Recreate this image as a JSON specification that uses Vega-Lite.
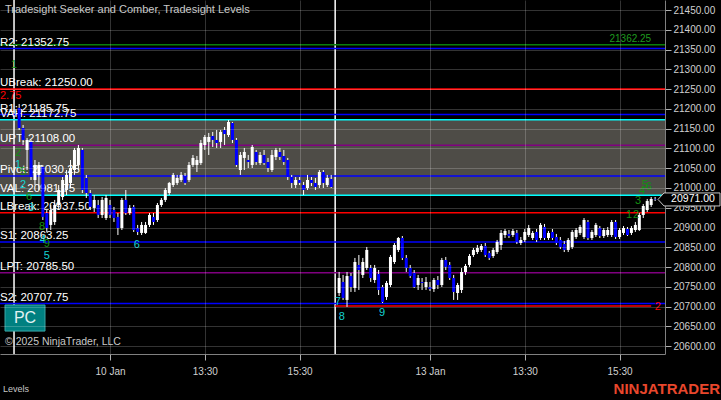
{
"$schema": "https://vega.github.io/schema/vega-lite/v6.json",
"width": 665, "height": 354,
"autosize": {"type": "none"},
"padding": {"left": 0, "top": 0, "right": 56, "bottom": 46},
"background": "#000000",
"config": {"view": {"stroke": null}, "font": "Liberation Sans", "text": {"font": "Liberation Sans"},
"scale": {"continuousPadding": 0},
"axis": {"labelOverlap": false, "labelFlush": false, "labelSeparation": 0}},
"datasets": {
"sessions": [{"b": -0.3}, {"b": 81}],
"levels": [
{"text": "R2: 21352.75", "value": 21352.75, "type": "S/R"},
{"text": "UBreak: 21250.00", "value": 21250.00, "type": "Break"},
{"text": "R1: 21185.75", "value": 21185.75, "type": "S/R"},
{"text": "VAH: 21172.75", "value": 21172.75, "type": "Value Area"},
{"text": "UPT: 21108.00", "value": 21108.00, "type": "Profit Target"},
{"text": "Pivot: 21030.25", "value": 21030.25, "type": "S/R"},
{"text": "VAL: 20981.75", "value": 20981.75, "type": "Value Area"},
{"text": "LBreak: 20937.50", "value": 20937.50, "type": "Break"},
{"text": "S1: 20863.25", "value": 20863.25, "type": "S/R"},
{"text": "LPT: 20785.50", "value": 20785.50, "type": "Profit Target"},
{"text": "S2: 20707.75", "value": 20707.75, "type": "S/R"},
{"text": "", "value": 21362.25, "type": "Target up"}
],
"signals": [
{"i": -0.3, "p": 21311, "t": "1", "k": "Seeker"},
{"i": 0.7, "p": 21088.5, "t": "2", "k": "Seeker"},
{"i": 0.7, "p": 21058, "t": "1", "k": "Comber"},
{"i": 2, "p": 21040.5, "t": "5", "k": "Seeker"},
{"i": 2, "p": 21007.5, "t": "2", "k": "Comber"},
{"i": 3.5, "p": 20977, "t": "6", "k": "Seeker"},
{"i": 4, "p": 20949.5, "t": "3", "k": "Comber"},
{"i": 6.8, "p": 20901.5, "t": "8", "k": "Seeker"},
{"i": 7, "p": 20868.5, "t": "4", "k": "Comber"},
{"i": 8, "p": 20858.5, "t": "9", "k": "Seeker"},
{"i": 8, "p": 20828, "t": "5", "k": "Comber"},
{"i": 30.8, "p": 20855.8, "t": "6", "k": "Comber"},
{"i": 81.7, "p": 20711.6, "t": "7", "k": "Comber"},
{"i": 82.7, "p": 20673.6, "t": "8", "k": "Comber"},
{"i": 92.9, "p": 20683.8, "t": "9", "k": "Comber"},
{"i": 155.4, "p": 20931.7, "t": "1", "k": "Seeker"},
{"i": 157.2, "p": 20931.7, "t": "2", "k": "Seeker"},
{"i": 157.7, "p": 20967, "t": "3", "k": "Seeker"},
{"i": 158.7, "p": 20992.4, "t": "4", "k": "Seeker"},
{"i": 159.4, "p": 21007.6, "t": "5", "k": "Seeker"},
{"i": 160.4, "p": 21002.5, "t": "6", "k": "Seeker"},
{"i": 162.7, "p": 20699, "t": "2", "k": "Target down"}
],
"bars": [
{"i":1,"o":21202.5,"h":21212.5,"l":21146.75,"c":21151.75},
{"i":2,"o":21151.75,"h":21159.5,"l":21108.75,"c":21121.5},
{"i":3,"o":21096.25,"h":21126.5,"l":21045.5,"c":21121.5},
{"i":4,"o":21116.5,"h":21121.5,"l":21020.25,"c":21027.75},
{"i":5,"o":21020.25,"h":21070.75,"l":21007.5,"c":21058.25},
{"i":6,"o":21033,"h":21065.75,"l":20995,"c":21058.25},
{"i":7,"o":21053.25,"h":21058.25,"l":20919,"c":20926.75},
{"i":8,"o":20936.75,"h":20944.25,"l":20888.75,"c":20898.75},
{"i":9,"o":20906.5,"h":20957,"l":20893.75,"c":20944.25},
{"i":10,"o":20914,"h":20969.75,"l":20906.5,"c":20957},
{"i":11,"o":20957,"h":21007.5,"l":20944.25,"c":20995},
{"i":12,"o":20977.25,"h":21027.75,"l":20969.75,"c":21020.25},
{"i":13,"o":20995,"h":21045.5,"l":20982.25,"c":21033},
{"i":14,"o":21012.75,"h":21070.75,"l":21000,"c":21050.5},
{"i":15,"o":21045.5,"h":21101.25,"l":21033,"c":21096.25},
{"i":16,"o":21058.25,"h":21108.75,"l":21045.5,"c":21101.25},
{"i":17,"o":21096.25,"h":21101.25,"l":20987.25,"c":20995},
{"i":18,"o":21025.25,"h":21033,"l":20974.75,"c":20987.25},
{"i":19,"o":20987.25,"h":20995,"l":20944.25,"c":20952},
{"i":20,"o":20949.5,"h":20982.25,"l":20939.25,"c":20969.75},
{"i":21,"o":20957,"h":20969.75,"l":20924,"c":20931.75},
{"i":22,"o":20931.75,"h":20977.25,"l":20924,"c":20969.75},
{"i":23,"o":20924,"h":20982.25,"l":20919,"c":20974.75},
{"i":24,"o":20957,"h":20969.75,"l":20924,"c":20931.75},
{"i":25,"o":20944.25,"h":20952,"l":20914,"c":20924},
{"i":26,"o":20926.75,"h":20936.75,"l":20881,"c":20898.75},
{"i":27,"o":20898.75,"h":20974.75,"l":20893.75,"c":20969.75},
{"i":28,"o":20969.75,"h":20995,"l":20931.75,"c":20936.75},
{"i":29,"o":20936.75,"h":20957,"l":20931.75,"c":20949.5},
{"i":30,"o":20952,"h":20957,"l":20888.75,"c":20893.75},
{"i":31,"o":20898.75,"h":20906.5,"l":20881,"c":20888.75},
{"i":32,"o":20886.25,"h":20914,"l":20881,"c":20906.5},
{"i":33,"o":20886.25,"h":20914,"l":20883.75,"c":20906.5},
{"i":34,"o":20906.5,"h":20936.75,"l":20901.25,"c":20931.75},
{"i":35,"o":20926.75,"h":20936.75,"l":20906.5,"c":20914},
{"i":36,"o":20919,"h":20962,"l":20914,"c":20957},
{"i":37,"o":20957,"h":20974.75,"l":20952,"c":20969.75},
{"i":38,"o":20969.75,"h":21000,"l":20964.5,"c":20995},
{"i":39,"o":20987.25,"h":21015.25,"l":20982.25,"c":21012.75},
{"i":40,"o":21007.5,"h":21038,"l":21002.5,"c":21033},
{"i":41,"o":21012.75,"h":21033,"l":21007.5,"c":21025.25},
{"i":42,"o":21020.25,"h":21040.5,"l":21015.25,"c":21033},
{"i":43,"o":21030.25,"h":21038,"l":21007.5,"c":21012.75},
{"i":44,"o":21020.25,"h":21065.75,"l":21015.25,"c":21058.25},
{"i":45,"o":21058.25,"h":21083.5,"l":21053.25,"c":21076},
{"i":46,"o":21058.25,"h":21081,"l":21040.5,"c":21070.75},
{"i":47,"o":21063.25,"h":21121.5,"l":21058.25,"c":21113.75},
{"i":48,"o":21108.75,"h":21134,"l":21096.25,"c":21129},
{"i":49,"o":21116.5,"h":21139.25,"l":21083.5,"c":21129},
{"i":50,"o":21131.5,"h":21141.75,"l":21103.75,"c":21121.5},
{"i":51,"o":21121.5,"h":21146.75,"l":21101.25,"c":21113.75},
{"i":52,"o":21116.5,"h":21146.75,"l":21101.25,"c":21141.75},
{"i":53,"o":21146.75,"h":21154.25,"l":21108.75,"c":21136.5},
{"i":54,"o":21134,"h":21172,"l":21129,"c":21167},
{"i":55,"o":21164.5,"h":21167,"l":21113.75,"c":21121.5},
{"i":56,"o":21121.5,"h":21126.5,"l":21053.25,"c":21058.25},
{"i":57,"o":21045.5,"h":21091,"l":21033,"c":21083.5},
{"i":58,"o":21076,"h":21101.25,"l":21045.5,"c":21091},
{"i":59,"o":21070.75,"h":21083.5,"l":21050.5,"c":21065.75},
{"i":60,"o":21058.25,"h":21108.75,"l":21050.5,"c":21103.75},
{"i":61,"o":21091,"h":21096.25,"l":21058.25,"c":21065.75},
{"i":62,"o":21063.25,"h":21091,"l":21058.25,"c":21083.5},
{"i":63,"o":21083.5,"h":21096.25,"l":21058.25,"c":21063.25},
{"i":64,"o":21065.75,"h":21076,"l":21040.5,"c":21050.5},
{"i":65,"o":21045.5,"h":21096.25,"l":21040.5,"c":21083.5},
{"i":66,"o":21078.5,"h":21101.25,"l":21070.75,"c":21096.25},
{"i":67,"o":21091,"h":21101.25,"l":21070.75,"c":21078.5},
{"i":68,"o":21081,"h":21096.25,"l":21058.25,"c":21065.75},
{"i":69,"o":21070.75,"h":21076,"l":21020.25,"c":21027.75},
{"i":70,"o":21027.75,"h":21033,"l":21000,"c":21012.75},
{"i":71,"o":21007.5,"h":21027.75,"l":21000,"c":21020.25},
{"i":72,"o":21020.25,"h":21027.75,"l":21007.5,"c":21012.75},
{"i":73,"o":21007.5,"h":21015.25,"l":20982.25,"c":20995},
{"i":74,"o":21000,"h":21033,"l":20995,"c":21020.25},
{"i":75,"o":21020.25,"h":21027.75,"l":21005,"c":21012.75},
{"i":76,"o":21012.75,"h":21025.25,"l":20995,"c":21002.5},
{"i":77,"o":21007.5,"h":21045.5,"l":21000,"c":21040.5},
{"i":78,"o":21040.5,"h":21045.5,"l":21000,"c":21012.75},
{"i":79,"o":21007.5,"h":21033,"l":21002.5,"c":21025.25},
{"i":80,"o":21022.75,"h":21033,"l":21000,"c":21002.5},
{"i":82,"o":20734.25,"h":20787.5,"l":20726.75,"c":20772.25},
{"i":83,"o":20762.25,"h":20780,"l":20716.75,"c":20721.75},
{"i":84,"o":20716.75,"h":20787.5,"l":20699,"c":20777.25},
{"i":85,"o":20777.25,"h":20785,"l":20737,"c":20749.5},
{"i":86,"o":20747,"h":20823,"l":20737,"c":20812.75},
{"i":87,"o":20805.25,"h":20830.5,"l":20742,"c":20792.5},
{"i":88,"o":20780,"h":20823,"l":20772.25,"c":20812.75},
{"i":89,"o":20797.5,"h":20850.75,"l":20792.5,"c":20843.25},
{"i":90,"o":20797.5,"h":20805.25,"l":20762.25,"c":20772.25},
{"i":91,"o":20767.25,"h":20805.25,"l":20759.75,"c":20797.5},
{"i":92,"o":20782.5,"h":20792.5,"l":20729.25,"c":20742},
{"i":93,"o":20749.5,"h":20754.5,"l":20709,"c":20711.5},
{"i":94,"o":20724.25,"h":20764.75,"l":20716.75,"c":20759.75},
{"i":95,"o":20754.5,"h":20830.5,"l":20749.5,"c":20825.5},
{"i":96,"o":20812.75,"h":20860.75,"l":20807.75,"c":20855.75},
{"i":97,"o":20843.25,"h":20876,"l":20838,"c":20873.5},
{"i":98,"o":20873.5,"h":20878.5,"l":20817.75,"c":20823},
{"i":99,"o":20823,"h":20830.5,"l":20787.5,"c":20797.5},
{"i":100,"o":20797.5,"h":20805.25,"l":20772.25,"c":20777.25},
{"i":101,"o":20785,"h":20792.5,"l":20747,"c":20749.5},
{"i":102,"o":20754.5,"h":20780,"l":20742,"c":20772.25},
{"i":103,"o":20762.25,"h":20772.25,"l":20742,"c":20759.75},
{"i":104,"o":20749.5,"h":20774.75,"l":20742,"c":20762.25},
{"i":105,"o":20749.5,"h":20762.25,"l":20739.5,"c":20744.5},
{"i":106,"o":20744.5,"h":20772.25,"l":20737,"c":20767.25},
{"i":107,"o":20767.25,"h":20777.25,"l":20744.5,"c":20754.5},
{"i":108,"o":20754.5,"h":20823,"l":20749.5,"c":20817.75},
{"i":109,"o":20817.75,"h":20825.5,"l":20792.5,"c":20800.25},
{"i":110,"o":20805.25,"h":20812.75,"l":20767.25,"c":20772.25},
{"i":111,"o":20772.25,"h":20780,"l":20716.75,"c":20737},
{"i":112,"o":20734.25,"h":20759.75,"l":20716.75,"c":20754.5},
{"i":113,"o":20742,"h":20797.5,"l":20734.25,"c":20787.5},
{"i":114,"o":20787.5,"h":20807.75,"l":20780,"c":20802.75},
{"i":115,"o":20805.25,"h":20833,"l":20800.25,"c":20828},
{"i":116,"o":20830.5,"h":20848.25,"l":20825.5,"c":20843.25},
{"i":117,"o":20838,"h":20855.75,"l":20833,"c":20848.25},
{"i":118,"o":20843.25,"h":20858.25,"l":20838,"c":20853.25},
{"i":119,"o":20853.25,"h":20860.75,"l":20825.5,"c":20830.5},
{"i":120,"o":20835.5,"h":20840.5,"l":20817.75,"c":20823},
{"i":121,"o":20828,"h":20848.25,"l":20823,"c":20843.25},
{"i":122,"o":20838,"h":20868.5,"l":20833,"c":20863.5},
{"i":123,"o":20855.75,"h":20893.75,"l":20843.25,"c":20886.25},
{"i":124,"o":20881,"h":20896.25,"l":20873.5,"c":20891.25},
{"i":125,"o":20883.75,"h":20893.75,"l":20873.5,"c":20878.5},
{"i":126,"o":20881,"h":20896.25,"l":20876,"c":20891.25},
{"i":127,"o":20886.25,"h":20893.75,"l":20858.25,"c":20863.5},
{"i":128,"o":20860.75,"h":20876,"l":20855.75,"c":20868.5},
{"i":129,"o":20868.5,"h":20896.25,"l":20863.5,"c":20888.75},
{"i":130,"o":20881,"h":20906.5,"l":20876,"c":20898.75},
{"i":131,"o":20873.5,"h":20891.25,"l":20868.5,"c":20886.25},
{"i":132,"o":20888.75,"h":20896.25,"l":20863.5,"c":20868.5},
{"i":133,"o":20873.5,"h":20911.5,"l":20868.5,"c":20906.5},
{"i":134,"o":20901.25,"h":20909,"l":20868.5,"c":20873.5},
{"i":135,"o":20873.5,"h":20891.25,"l":20868.5,"c":20886.25},
{"i":136,"o":20888.75,"h":20896.25,"l":20868.5,"c":20873.5},
{"i":137,"o":20876,"h":20883.75,"l":20855.75,"c":20860.75},
{"i":138,"o":20868.5,"h":20876,"l":20845.75,"c":20850.75},
{"i":139,"o":20858.25,"h":20866,"l":20838,"c":20843.25},
{"i":140,"o":20843.25,"h":20873.5,"l":20838,"c":20868.5},
{"i":141,"o":20850.75,"h":20893.75,"l":20845.75,"c":20888.75},
{"i":142,"o":20876,"h":20898.75,"l":20871,"c":20893.75},
{"i":143,"o":20886.25,"h":20906.5,"l":20881,"c":20901.25},
{"i":144,"o":20876,"h":20924,"l":20871,"c":20919},
{"i":145,"o":20914,"h":20919,"l":20868.5,"c":20873.5},
{"i":146,"o":20873.5,"h":20893.75,"l":20868.5,"c":20888.75},
{"i":147,"o":20881,"h":20911.5,"l":20876,"c":20906.5},
{"i":148,"o":20898.75,"h":20903.75,"l":20873.5,"c":20878.5},
{"i":149,"o":20878.5,"h":20898.75,"l":20873.5,"c":20893.75},
{"i":150,"o":20881,"h":20901.25,"l":20876,"c":20893.75},
{"i":151,"o":20881,"h":20919,"l":20876,"c":20914},
{"i":152,"o":20914,"h":20919,"l":20871,"c":20876},
{"i":153,"o":20876,"h":20898.75,"l":20871,"c":20893.75},
{"i":154,"o":20886.25,"h":20903.75,"l":20881,"c":20898.75},
{"i":155,"o":20896.25,"h":20901.25,"l":20878.5,"c":20881},
{"i":156,"o":20886.25,"h":20903.75,"l":20881,"c":20898.75},
{"i":157,"o":20893.75,"h":20914,"l":20888.75,"c":20906.5},
{"i":158,"o":20893.75,"h":20936.75,"l":20891.25,"c":20931.75},
{"i":159,"o":20931.75,"h":20959.5,"l":20924,"c":20954.5},
{"i":160,"o":20944.25,"h":20972.25,"l":20939.25,"c":20967},
{"i":161,"o":20957,"h":20977.25,"l":20952,"c":20972.25},
{"i":162,"o":20972.25,"h":20977.25,"l":20967,"c":20971}
]
},
"resolve": {"axis": {"x": "independent", "y": "independent"}},
"layer": [
{
"data": {"values": [{}]},
"mark": {"type": "rect", "color": "#4e4c47"},
"encoding": {
"x": {"datum": -3.85, "type": "quantitative", "title": null,
"scale": {"domain": [-3.85, 164.5], "nice": false, "zero": false, "padding": 0},
"axis": {"orient": "bottom", "title": null, "grid": true, "gridColor": "#ffffff", "gridOpacity": 0.2, "labels": false, "ticks": false, "domain": false, "values": [24, 48, 72, 105, 129, 153], "tickCount": 30, "zindex": 1}},
"x2": {"datum": 164.5},
"y": {"datum": 20981.75, "type": "quantitative", "title": null,
"scale": {"domain": [20580, 21475.6], "nice": false, "zero": false, "padding": 0},
"axis": {"orient": "right", "title": null, "grid": true, "gridColor": "#ffffff", "gridOpacity": 0.2, "labels": false, "ticks": false, "domain": false, "values": [20600, 20650, 20700, 20750, 20800, 20850, 20900, 20950, 21000, 21050, 21100, 21150, 21200, 21250, 21300, 21350, 21400, 21450], "tickCount": 30, "zindex": 1}},
"y2": {"datum": 21172.75}
}
},
{
"layer": [
{
"data": {"name": "sessions"},
"mark": {"type": "rule", "color": "#ffffff", "strokeWidth": 1.5},
"encoding": {
"x": {"field": "b", "type": "quantitative", "title": null,
"scale": {"domain": [-3.85, 164.5], "nice": false, "zero": false, "padding": 0},
"axis": {"orient": "bottom", "title": null, "grid": false, "values": [24, 48, 72, 105, 129, 153], "tickCount": 30,
"labelExpr": "datum.value == 24 ? '10 Jan' : datum.value == 48 ? '13:30' : datum.value == 72 ? '15:30' : datum.value == 105 ? '13 Jan' : datum.value == 129 ? '13:30' : '15:30'",
"domain": true, "domainColor": "#808080", "ticks": true, "tickColor": "#b0b0b0", "tickSize": 6,
"labelColor": "#d0d0d0", "labelFontSize": 10, "labelFont": "Liberation Sans", "labelPadding": 6, "labelOverlap": false, "labelFlush": false, "zindex": 0}}
}
},
{
"data": {"name": "levels"},
"mark": {"type": "rule", "strokeWidth": 1.6},
"encoding": {
"y": {"field": "value", "type": "quantitative", "title": null,
"scale": {"domain": [20580, 21475.6], "nice": false, "zero": false, "padding": 0},
"axis": {"orient": "right", "title": null, "grid": false, "values": [20600, 20650, 20700, 20750, 20800, 20850, 20900, 20950, 21000, 21050, 21100, 21150, 21200, 21250, 21300, 21350, 21400, 21450], "tickCount": 30,
"format": ".2f", "domain": true, "domainColor": "#808080", "ticks": true, "tickColor": "#b0b0b0", "tickSize": 6,
"labelColor": "#d0d0d0", "labelFontSize": 10, "labelFont": "Liberation Sans", "labelPadding": 2, "labelOverlap": false, "labelFlush": false, "labelSeparation": 0, "zindex": 0}},
"color": {"field": "type", "type": "nominal", "legend": null,
"scale": {"domain": ["S/R", "Break", "Value Area", "Profit Target", "Target up", "Seeker", "Comber", "Target down"], "range": ["#0000ff", "#ff0000", "#00ffff", "#800080", "#0a7d0a", "#138f13", "#14d2d2", "#ff0000"]}}
}
},
{
"data": {"values": [{}]},
"mark": {"type": "rule", "color": "#ff0000", "strokeWidth": 1.6},
"encoding": {
"x": {"datum": 81, "type": "quantitative", "title": null},
"x2": {"datum": 161},
"y": {"datum": 20701.5, "type": "quantitative", "title": null}
}
},
{
"data": {"name": "levels"},
"mark": {"type": "text", "align": "left", "baseline": "bottom", "dy": -1, "dx": 0, "fontSize": 11.5, "color": "#ffffff"},
"encoding": {
"x": {"datum": -3.85, "type": "quantitative", "title": null},
"y": {"field": "value", "type": "quantitative", "title": null},
"text": {"field": "text"}
}
},
{
"data": {"values": [{"label": "21362.25", "v": 21362.25}]},
"mark": {"type": "text", "align": "right", "baseline": "bottom", "dy": -1, "fontSize": 10, "color": "#1f9a1f"},
"encoding": {
"x": {"datum": 161, "type": "quantitative", "title": null},
"y": {"field": "v", "type": "quantitative", "title": null},
"text": {"field": "label"}
}
},
{
"data": {"name": "bars"},
"mark": {"type": "rule", "color": "#ffffff", "strokeWidth": 1},
"encoding": {
"x": {"field": "i", "type": "quantitative", "title": null},
"y": {"field": "l", "type": "quantitative", "title": null},
"y2": {"field": "h"}
}
},
{
"data": {"name": "bars"},
"mark": {"type": "bar", "size": 3},
"encoding": {
"x": {"field": "i", "type": "quantitative", "title": null},
"y": {"field": "o", "type": "quantitative", "title": null},
"y2": {"field": "c"},
"color": {"condition": {"test": "datum.c >= datum.o", "value": "#ffffff"}, "value": "#0000ff"}
}
},
{
"data": {"name": "signals"},
"mark": {"type": "text", "align": "center", "baseline": "middle", "fontSize": 11},
"encoding": {
"x": {"field": "i", "type": "quantitative", "title": null},
"y": {"field": "p", "type": "quantitative", "title": null},
"text": {"field": "t"},
"color": {"field": "k", "type": "nominal", "legend": null,
"scale": {"domain": ["S/R", "Break", "Value Area", "Profit Target", "Target up", "Seeker", "Comber", "Target down"], "range": ["#0000ff", "#ff0000", "#00ffff", "#800080", "#0a7d0a", "#138f13", "#14d2d2", "#ff0000"]}}
}
},
{
"data": {"values": [{"t": "2.75"}]},
"mark": {"type": "text", "align": "left", "baseline": "middle", "fontSize": 11, "color": "#ff0000"},
"encoding": {
"x": {"datum": -3.85, "type": "quantitative", "title": null},
"y": {"datum": 21232.8, "type": "quantitative", "title": null},
"text": {"field": "t"}
}
},
{
"data": {"values": [{}]},
"mark": {"type": "rect", "color": "#008080", "stroke": "#3aa8a8", "strokeWidth": 1},
"encoding": {
"x": {"datum": -2.58, "type": "quantitative", "title": null},
"x2": {"datum": 7.54},
"y": {"datum": 20704, "type": "quantitative", "title": null},
"y2": {"datum": 20638}
}
},
{
"data": {"values": [{"t": "PC"}]},
"mark": {"type": "text", "align": "center", "baseline": "middle", "fontSize": 16, "color": "#e0f2f2"},
"encoding": {
"x": {"datum": 2.48, "type": "quantitative", "title": null},
"y": {"datum": 20671, "type": "quantitative", "title": null},
"text": {"field": "t"}
}
},
{
"data": {"values": [{"price": 20971}]},
"mark": {"type": "point", "shape": "M-1.133,0 L-0.933,-0.217 L0.933,-0.217 L0.933,0.217 L-0.933,0.217 Z", "size": 3600, "filled": true, "fill": "#000000", "stroke": "#c8c8c8", "strokeWidth": 1, "opacity": 1, "xOffset": 27},
"encoding": {
"x": {"datum": 164.5, "type": "quantitative", "title": null},
"y": {"field": "price", "type": "quantitative", "title": null}
}
},
{
"data": {"values": [{"price": 20971, "t": "20971.00"}]},
"mark": {"type": "text", "align": "center", "baseline": "middle", "fontSize": 10.5, "color": "#ffffff", "dx": 28},
"encoding": {
"x": {"datum": 164.5, "type": "quantitative", "title": null},
"y": {"field": "price", "type": "quantitative", "title": null},
"text": {"field": "t"}
}
},
{
"data": {"values": [{"t": "Tradesight Seeker and Comber, Tradesight Levels"}]},
"mark": {"type": "text", "align": "left", "baseline": "middle", "fontSize": 11, "color": "#c8c8c8", "dx": 5},
"encoding": {
"x": {"datum": -3.85, "type": "quantitative", "title": null},
"y": {"datum": 21450.3, "type": "quantitative", "title": null},
"text": {"field": "t"}
}
},
{
"data": {"values": [{"t": "© 2025 NinjaTrader, LLC"}]},
"mark": {"type": "text", "align": "left", "baseline": "middle", "fontSize": 10.5, "color": "#c8c8c8", "dx": 5},
"encoding": {
"x": {"datum": -3.85, "type": "quantitative", "title": null},
"y": {"datum": 20610.4, "type": "quantitative", "title": null},
"text": {"field": "t"}
}
},
{
"data": {"values": [{"t": "Levels"}]},
"mark": {"type": "text", "align": "left", "baseline": "middle", "fontSize": 9, "color": "#c8c8c8", "dx": 3},
"encoding": {
"x": {"datum": -3.85, "type": "quantitative", "title": null},
"y": {"datum": 20491.5, "type": "quantitative", "title": null},
"text": {"field": "t"}
}
},
{
"data": {"values": [{"t": "NINJATRADER"}]},
"mark": {"type": "text", "align": "right", "baseline": "middle", "fontSize": 15, "fontWeight": "bold", "font": "Liberation Sans Narrow, Liberation Sans", "color": "#e8472c", "dx": 55},
"encoding": {
"x": {"datum": 164.5, "type": "quantitative", "title": null},
"y": {"datum": 20491.5, "type": "quantitative", "title": null},
"text": {"field": "t"}
}
}
]
}
]
}
